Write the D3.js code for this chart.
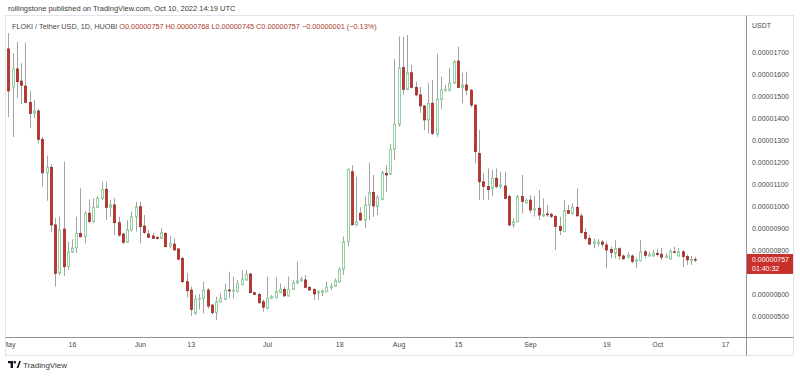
<!DOCTYPE html>
<html>
<head>
<meta charset="utf-8">
<title>FLOKI / Tether USD</title>
<script src="https://d3js.org/d3.v7.min.js"></script>
<style>
  body { margin: 0; background: #fff; }
  text { font-family: "Liberation Sans", Arial, sans-serif; }
</style>
</head>
<body>
<svg id="chart" width="800" height="377"></svg>
<script>
// daily candles from May 1 2022, prices in units of 0.00000001 USDT
var firstDay = "2022-05-01";
var open  = [1714,1541,1623,1568,1545,1470,1421,1432,1303,1151,1176,914,694,895,724,790,810,876,860,967,929,994,1035,1076,994,1005,924,873,835,891,951,
             997,909,873,864,857,853,876,818,827,805,762,656,618,512,576,580,618,550,515,565,576,618,614,611,642,664,691,606,598,565,
             536,580,583,607,621,591,621,651,660,664,630,621,604,607,611,630,636,656,712,838,1156,914,967,936,1005,1061,998,1030,1148,1146,1258,
             1371,1629,1530,1606,1539,1505,1455,1391,1467,1327,1485,1525,1527,1558,1659,1539,1550,1527,1459,1239,1110,1089,1080,1126,1089,1091,1043,914,929,1043,1015,
             1027,982,990,955,964,962,952,907,884,979,967,994,955,879,853,830,830,836,823,803,785,806,773,767,773,748,752,792,773,773,
             785,781,767,760,792,773,792,770,752,757];
var high  = [1786,1695,1745,1649,1742,1524,1482,1440,1314,1229,1190,945,951,1201,838,849,951,1080,975,1030,1035,1045,1110,1110,1027,1035,951,876,936,975,1020,
             1020,959,891,876,864,899,880,864,853,808,770,694,634,595,600,656,626,555,588,603,648,701,679,664,706,709,697,610,604,575,
             679,595,676,648,633,679,664,747,680,686,636,626,618,621,656,648,671,722,861,1170,1186,1133,994,1043,1197,1141,1050,1159,1186,1282,1667,
             1770,1770,1777,1641,1565,1542,1459,1558,1573,1691,1588,1550,1626,1664,1724,1606,1611,1530,1462,1345,1148,1171,1164,1171,1156,1156,1050,944,1050,1141,1035,
             1050,1045,1073,1035,1005,970,960,951,1027,1005,1012,1080,967,899,868,853,850,845,838,815,845,812,780,792,780,765,845,800,792,800,
             806,810,785,803,815,808,800,780,773,768];
var low   = [1405,1314,1491,1464,1467,1353,1399,1285,1088,1024,880,633,686,682,709,786,786,857,830,922,922,990,1027,936,951,868,860,826,833,884,884,
             830,873,853,850,848,850,812,808,797,755,648,585,500,505,530,512,535,508,482,560,573,580,580,607,640,660,603,595,557,520,
             530,576,580,604,589,589,618,645,656,626,615,573,573,591,607,618,633,650,686,815,914,910,934,900,936,951,959,1027,1065,1141,1209,
             1360,1505,1525,1535,1498,1424,1345,1330,1323,1315,1440,1520,1520,1555,1535,1467,1505,1448,1194,1027,1027,1027,1044,1080,1080,1030,907,900,925,967,1010,
             967,952,936,950,950,945,800,868,880,964,959,952,876,845,823,808,815,812,717,762,762,755,755,762,740,717,748,762,770,770,
             770,755,762,755,785,770,722,732,732,745];
var close = [1523,1623,1565,1549,1470,1421,1432,1303,1151,1176,914,694,891,724,790,810,876,860,967,929,994,1035,1076,994,1005,924,868,835,891,951,997,
             906,879,858,853,852,879,815,830,800,758,656,615,530,576,580,618,545,515,565,580,618,614,618,648,667,689,606,598,560,540,
             580,589,611,621,591,621,651,660,667,630,618,600,611,615,630,636,660,712,838,1167,914,929,936,1005,1061,1000,1039,1152,1141,1258,1371,
             1626,1530,1606,1539,1505,1455,1391,1467,1330,1485,1527,1530,1558,1656,1539,1550,1527,1459,1247,1110,1089,1074,1126,1089,1096,1035,914,929,1043,1020,1025,
             982,988,959,962,960,952,907,888,979,967,994,955,879,853,827,838,836,826,800,789,806,773,760,777,748,755,792,776,779,785,
             779,767,773,795,789,792,770,755,758,757];

var timeTicks  = ["2022-05-01","2022-05-16","2022-06-01","2022-06-13","2022-07-01","2022-07-18",
                  "2022-08-01","2022-08-15","2022-09-01","2022-09-19","2022-10-01","2022-10-17"];
var timeLabels = ["May","16","Jun","13","Jul","18","Aug","15","Sep","19","Oct","17"];
var priceTicks = [500,600,700,800,900,1000,1100,1200,1300,1400,1500,1600,1700];

var parseDay = d3.utcParse("%Y-%m-%d");
var day0 = parseDay(firstDay);
var data = open.map(function(o, i) {
  return {date: d3.utcDay.offset(day0, i), o: o, h: high[i], l: low[i], c: close[i]};
});
var last = data[data.length - 1];

var svg = d3.select("#chart");

// frame
var plot = {left: 6, top: 16, right: 746, bottom: 337};
svg.append("rect")
  .attr("x", 5.5).attr("y", 15.5).attr("width", 788).attr("height", 340)
  .attr("fill", "none").attr("stroke", "#e0e3eb");

var x = d3.scaleUtc()
  .domain([parseDay("2022-05-01"), parseDay("2022-10-17")])
  .range([8.4, 725.1]);
var y = d3.scaleLinear()
  .domain([500, 1700])
  .range([316, 52]);

svg.append("clipPath").attr("id", "plotClip")
  .append("rect")
  .attr("x", plot.left).attr("y", plot.top)
  .attr("width", plot.right - plot.left).attr("height", plot.bottom - plot.top);

var candles = svg.append("g").attr("clip-path", "url(#plotClip)");

function cx(d) { return Math.round(x(d.date)); }

// wicks
candles.selectAll(".wick")
  .data(data).enter().append("line")
  .attr("x1", function(d) { return cx(d) + 0.5; })
  .attr("x2", function(d) { return cx(d) + 0.5; })
  .attr("y1", function(d) { return y(d.h); })
  .attr("y2", function(d) { return y(d.l); })
  .attr("stroke", "#a3a3a3")
  .attr("stroke-width", 1);

// bodies
candles.selectAll(".body")
  .data(data).enter().append("rect")
  .attr("x", function(d) { return cx(d) - 0.5; })
  .attr("width", 2)
  .attr("y", function(d) { return Math.min(y(d.o), y(d.c)); })
  .attr("height", function(d) { return Math.max(0.6, Math.abs(y(d.o) - y(d.c))); })
  .attr("fill", function(d) { return d.c > d.o ? "#ffffff" : "#c9302b"; })
  .attr("stroke", function(d) { return d.c > d.o ? "#95cfa4" : "#8a1f1b"; })
  .attr("stroke-width", function(d) { return d.c > d.o ? 1 : 0.7; });

// separators
svg.append("line")
  .attr("x1", 746.5).attr("x2", 746.5).attr("y1", 15.5).attr("y2", 355.5)
  .attr("stroke", "#8f929b");
svg.append("line")
  .attr("x1", 5.5).attr("x2", 793.5).attr("y1", 337.5).attr("y2", 337.5)
  .attr("stroke", "#8f929b");

// price axis (labels under the last price box are hidden, like TradingView)
var lp = y(last.c);
var shownTicks = priceTicks.filter(function(p) { return y(p) < lp - 8 || y(p) > lp + 18; });
var yAxis = svg.append("g")
  .attr("transform", "translate(749,0)")
  .call(d3.axisRight(y).tickValues(shownTicks).tickSize(0).tickPadding(3)
    .tickFormat(function(p) { return (p * 1e-8).toFixed(8); }));
yAxis.select(".domain").remove();
yAxis.selectAll("text").attr("font-size", 7).attr("fill", "#4a4a4a")
  .attr("font-family", "Liberation Sans, Arial, sans-serif");

svg.append("text").attr("x", 752).attr("y", 27.5)
  .attr("font-size", 7).attr("fill", "#4a4a4a").text("USDT");

// last price label
svg.append("rect")
  .attr("x", 747).attr("y", lp - 5.5).attr("width", 46).attr("height", 20)
  .attr("fill", "#c9302b");
svg.append("text").attr("x", 752).attr("y", lp + 2.5)
  .attr("font-size", 7).attr("fill", "#ffffff")
  .text((last.c * 1e-8).toFixed(8));
svg.append("text").attr("x", 752).attr("y", lp + 11.5)
  .attr("font-size", 7).attr("fill", "#ffffff")
  .text("01:40:32");

// time axis
svg.append("clipPath").attr("id", "xClip")
  .append("rect").attr("x", 6).attr("y", 0).attr("width", 740).attr("height", 17);
var xAxis = svg.append("g")
  .attr("transform", "translate(0,338)")
  .attr("clip-path", "url(#xClip)")
  .call(d3.axisBottom(x).tickValues(timeTicks.map(parseDay)).tickSize(0).tickPadding(4)
    .tickFormat(function(d, i) { return timeLabels[i]; }));
xAxis.select(".domain").remove();
xAxis.selectAll("text").attr("font-size", 7).attr("fill", "#4a4a4a")
  .attr("font-family", "Liberation Sans, Arial, sans-serif");

// header and legend
svg.append("text").attr("x", 8).attr("y", 11)
  .attr("font-size", 7.5).attr("fill", "#3a3a3a")
  .text("rollingstone published on TradingView.com, Oct 10, 2022 14:19 UTC");

var legend = svg.append("text").attr("x", 12).attr("y", 28.5).attr("font-size", 7.3);
legend.append("tspan").attr("fill", "#4a4a4a").text("FLOKI / Tether USD, 1D, HUOBI  ");
var change = last.c - close[close.length - 2];
var fmt = function(v) { return (v * 1e-8).toFixed(8); };
[["O", last.o], ["H", last.h], ["L", last.l], ["C", last.c]].forEach(function(p) {
  legend.append("tspan").attr("fill", "#a8382d").text(p[0] + fmt(p[1]) + "  ");
});
legend.append("tspan").attr("fill", "#a8382d")
  .text("\u2212" + fmt(Math.abs(change)) + " (\u2212" +
        (Math.abs(change) / close[close.length - 2] * 100).toFixed(2) + "%)");

// footer logo
var logo = svg.append("g").attr("transform", "translate(8,361)").attr("fill", "#131722");
logo.append("rect").attr("x", 0).attr("y", 0).attr("width", 5).attr("height", 2.2);
logo.append("rect").attr("x", 2.6).attr("y", 0).attr("width", 2.4).attr("height", 7);
logo.append("circle").attr("cx", 6.8).attr("cy", 1.2).attr("r", 1.2);
logo.append("path").attr("d", "M8.6 7 L11.2 0 L13 0 L10.4 7 Z");
svg.append("text").attr("x", 23).attr("y", 368)
  .attr("font-size", 8).attr("fill", "#333").text("TradingView");
</script>
</body>
</html>
